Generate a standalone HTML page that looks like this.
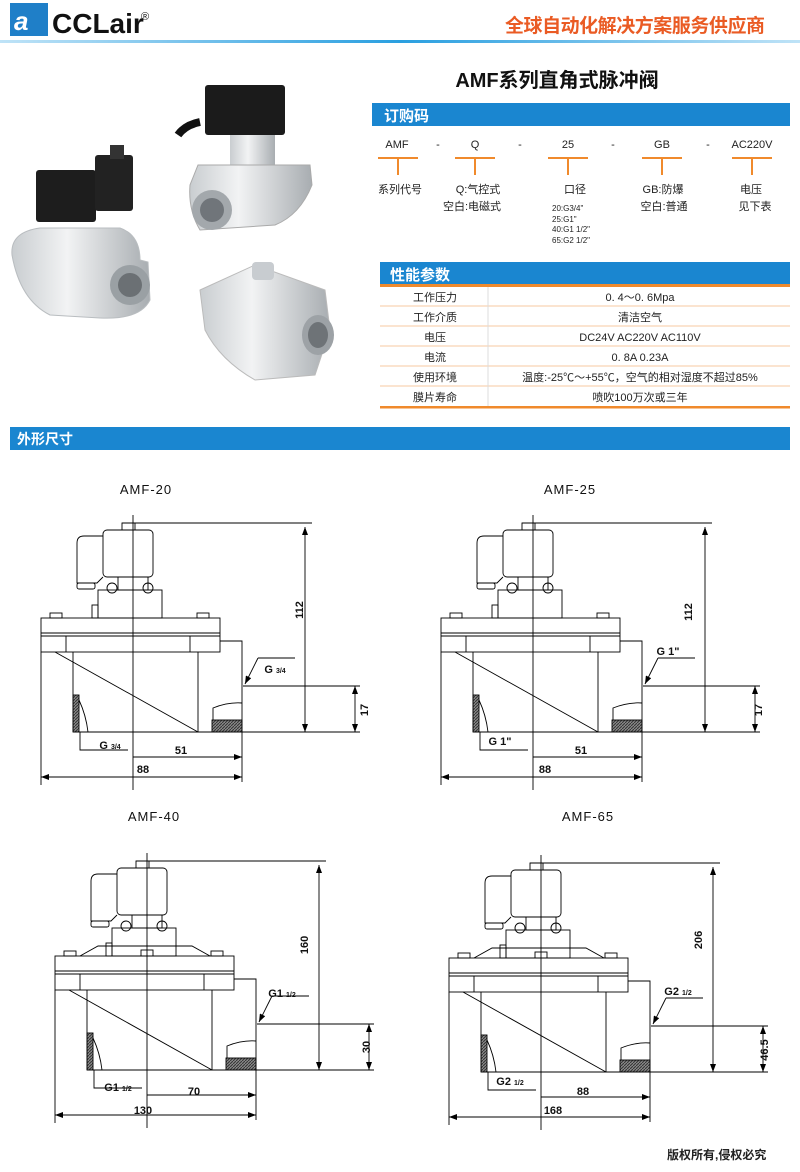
<!DOCTYPE html>
<html><head><meta charset="utf-8"><style>
html,body{margin:0;padding:0;background:#fff;}
body{width:800px;height:1167px;overflow:hidden;position:relative;font-family:"Liberation Sans","Noto Sans CJK SC",sans-serif;}
svg text{font-family:"Liberation Sans","Noto Sans CJK SC",sans-serif;}
</style></head><body>
<svg width="800" height="1167" viewBox="0 0 800 1167" xmlns="http://www.w3.org/2000/svg">
<defs>
<linearGradient id="hl" x1="0" x2="1"><stop offset="0" stop-color="#bfe3f7"/><stop offset="0.5" stop-color="#2a9fe0"/><stop offset="1" stop-color="#bfe3f7"/></linearGradient>
<linearGradient id="metal" x1="0" x2="1"><stop offset="0" stop-color="#c9cdd0"/><stop offset="0.4" stop-color="#f2f3f4"/><stop offset="1" stop-color="#a8adb1"/></linearGradient>
<pattern id="hatch" width="3" height="3" patternUnits="userSpaceOnUse"><rect width="3" height="3" fill="#888"/><path d="M0 3L3 0" stroke="#333" stroke-width="1"/></pattern>
<marker id="ar" markerWidth="8" markerHeight="6" refX="8" refY="3" orient="auto-start-reverse" markerUnits="userSpaceOnUse"><path d="M0 0L8 3L0 6z" fill="#000"/></marker>
<g id="valve" fill="none" stroke="#000" stroke-width="0.9">
  <line x1="133" y1="515" x2="133" y2="790"/>
  <line x1="122" y1="523" x2="312" y2="523"/>
  <rect x="122" y="523" width="13" height="7"/>
  <rect x="103" y="530" width="50" height="47" rx="4"/>
  <path d="M103 536 H84 Q77 536 77 543 V583 H97 L103 577"/>
  <rect x="77" y="583" width="18" height="6" rx="2"/>
  <rect x="118" y="577" width="30" height="13"/>
  <circle cx="112" cy="588" r="5"/><circle cx="148" cy="588" r="5"/>
  <rect x="98" y="590" width="64" height="28"/>
  <rect x="92" y="605" width="6" height="13"/>
  <rect x="50" y="613" width="12" height="5"/><rect x="197" y="613" width="12" height="5"/>
  <rect x="41" y="618" width="179" height="34"/>
  <line x1="41" y1="633" x2="220" y2="633"/><line x1="41" y1="636" x2="220" y2="636"/>
  <line x1="66" y1="636" x2="66" y2="652"/><line x1="190" y1="636" x2="190" y2="652"/>
  <path d="M220 641 H242 V732"/>
  <line x1="41" y1="652" x2="41" y2="785"/>
  <line x1="73" y1="652" x2="73" y2="732"/>
  <line x1="198" y1="652" x2="198" y2="732"/>
  <line x1="55" y1="652" x2="198" y2="732"/>
  <line x1="73" y1="732" x2="360" y2="732"/>
  <rect x="73" y="695" width="6" height="37" fill="url(#hatch)"/>
  <path d="M79 700 Q86 715 88 732"/>
  <rect x="212" y="720" width="30" height="12" fill="url(#hatch)"/>
  <path d="M213 720 V708 Q228 702 242 703"/>
  <line x1="305" y1="527" x2="305" y2="732" marker-start="url(#ar)" marker-end="url(#ar)"/>
  <line x1="243" y1="686" x2="360" y2="686"/>
  <line x1="355" y1="686" x2="355" y2="732" marker-start="url(#ar)" marker-end="url(#ar)"/>
  <path d="M258 658 L245 684" marker-end="url(#ar)"/><line x1="258" y1="658" x2="295" y2="658"/>
  <path d="M80 732 V750 H128"/>
  <line x1="242" y1="732" x2="242" y2="782"/>
  <line x1="133" y1="757" x2="242" y2="757" marker-end="url(#ar)"/>
  <line x1="41" y1="777" x2="242" y2="777" marker-start="url(#ar)" marker-end="url(#ar)"/>
</g>
<g id="slope" fill="none" stroke="#000" stroke-width="0.9">
  <path d="M66 618 L84 608 H178 L196 618"/>
  <rect x="127" y="612" width="12" height="6"/>
</g>
</defs>

<!-- header -->
<rect x="10" y="3" width="38" height="33" fill="#1f7fc8"/>
<text x="14" y="30" font-size="26" font-style="italic" font-weight="bold" fill="#fff" font-family="Liberation Serif, serif">a</text>
<text x="52" y="33" font-size="28" font-weight="bold" fill="#111">CCLair</text>
<text x="141" y="20" font-size="11" fill="#111">®</text>
<text x="505" y="32" font-size="19" font-weight="bold" fill="#ea5b24" textLength="260">全球自动化解决方案服务供应商</text>
<rect x="0" y="40" width="800" height="3" fill="url(#hl)"/>

<!-- photos (approximate) -->
<g>
  <rect x="36" y="170" width="60" height="52" rx="3" fill="#1d1d1d"/>
  <rect x="95" y="155" width="38" height="56" rx="3" fill="#222"/>
  <rect x="110" y="145" width="14" height="14" fill="#333"/>
  <path d="M12 255 Q10 232 40 228 L120 228 Q140 235 140 260 L148 262 L150 300 Q140 320 100 318 L50 315 Q20 300 12 255Z" fill="url(#metal)" stroke="#b9bdc0"/>
  <circle cx="130" cy="285" r="20" fill="#9aa0a4"/><circle cx="130" cy="285" r="12" fill="#6b7074"/>
  <rect x="205" y="85" width="80" height="50" rx="3" fill="#1b1b1b"/>
  <path d="M200 122 Q185 125 178 135" stroke="#111" stroke-width="8" fill="none"/>
  <rect x="230" y="135" width="45" height="30" fill="url(#metal)"/>
  <path d="M198 165 L310 165 L312 185 Q300 215 275 225 L200 230 Q188 210 190 185Z" fill="url(#metal)" stroke="#aaa"/>
  <circle cx="212" cy="210" r="20" fill="#a3a8ac"/><circle cx="212" cy="210" r="12" fill="#70757a"/>
  <path d="M200 290 L255 265 L325 290 L330 330 L315 375 L255 380 Q220 360 205 330Z" fill="url(#metal)" stroke="#bbb"/>
  <rect x="252" y="262" width="22" height="18" rx="4" fill="#c8ccd0"/>
  <ellipse cx="318" cy="335" rx="16" ry="20" fill="#9da2a6"/><ellipse cx="318" cy="335" rx="10" ry="13" fill="#6e7377"/>
</g>

<!-- title -->
<text x="557" y="87" font-size="20" font-weight="bold" fill="#111" text-anchor="middle">AMF系列直角式脉冲阀</text>

<!-- order code -->
<rect x="372" y="103" width="418" height="23" fill="#1a86d0"/>
<text x="384" y="121" font-size="15" font-weight="bold" fill="#fff">订购码</text>
<g font-size="11" fill="#222" text-anchor="middle">
  <text x="397" y="148">AMF</text><text x="438" y="148">-</text>
  <text x="475" y="148">Q</text><text x="520" y="148">-</text>
  <text x="568" y="148">25</text><text x="613" y="148">-</text>
  <text x="662" y="148">GB</text><text x="708" y="148">-</text>
  <text x="752" y="148">AC220V</text>
</g>
<g stroke="#f08a2c" stroke-width="2" fill="none">
  <path d="M378 158H418M398 158V175"/><path d="M455 158H495M475 158V175"/>
  <path d="M548 158H588M568 158V175"/><path d="M642 158H682M662 158V175"/>
  <path d="M732 158H772M752 158V175"/>
</g>
<g font-size="11" fill="#222" text-anchor="middle">
  <text x="400" y="193">系列代号</text>
  <text x="478" y="193">Q:气控式</text><text x="472" y="210">空白:电磁式</text>
  <text x="575" y="193">口径</text>
  <text x="663" y="193">GB:防爆</text><text x="664" y="210">空白:普通</text>
  <text x="751" y="193">电压</text><text x="755" y="210">见下表</text>
</g>
<g font-size="8" fill="#222">
  <text x="552" y="211">20:G3/4"</text><text x="552" y="222">25:G1"</text>
  <text x="552" y="232">40:G1 1/2"</text><text x="552" y="243">65:G2 1/2"</text>
</g>

<!-- performance -->
<rect x="380" y="262" width="410" height="23" fill="#1a86d0"/>
<rect x="380" y="284" width="410" height="3" fill="#f08a2c"/>
<text x="390" y="280" font-size="15" font-weight="bold" fill="#fff">性能参数</text>
<g stroke="#f7c9a0" stroke-width="1">
  <line x1="380" y1="306" x2="790" y2="306"/><line x1="380" y1="326" x2="790" y2="326"/>
  <line x1="380" y1="346" x2="790" y2="346"/><line x1="380" y1="366" x2="790" y2="366"/>
  <line x1="380" y1="386" x2="790" y2="386"/>
  <line x1="488" y1="287" x2="488" y2="406" stroke="#ddd"/>
</g>
<rect x="380" y="406" width="410" height="2.5" fill="#f08a2c"/>
<g font-size="11" fill="#222" text-anchor="middle">
  <text x="435" y="301">工作压力</text><text x="640" y="301">0. 4～0. 6Mpa</text>
  <text x="435" y="321">工作介质</text><text x="640" y="321">清洁空气</text>
  <text x="435" y="341">电压</text><text x="640" y="341">DC24V  AC220V  AC110V</text>
  <text x="435" y="361">电流</text><text x="640" y="361">0. 8A  0.23A</text>
  <text x="435" y="381">使用环境</text><text x="640" y="381">温度:-25℃～+55℃，空气的相对湿度不超过85%</text>
  <text x="435" y="401">膜片寿命</text><text x="640" y="401">喷吹100万次或三年</text>
</g>

<!-- dimensions bar -->
<rect x="10" y="427" width="780" height="23" fill="#1a86d0"/>
<text x="17" y="444" font-size="14" font-weight="bold" fill="#fff">外形尺寸</text>

<!-- drawings -->
<use href="#valve"/>
<use href="#valve" transform="translate(400,0)"/>
<use href="#valve" transform="translate(14,338)"/>
<use href="#slope" transform="translate(14,338)"/>
<use href="#valve" transform="translate(408,340)"/>
<use href="#slope" transform="translate(408,340)"/>

<g font-size="13" fill="#111" text-anchor="middle">
  <text x="146" y="494" letter-spacing="1">AMF-20</text>
  <text x="570" y="494" letter-spacing="1">AMF-25</text>
  <text x="154" y="821" letter-spacing="1">AMF-40</text>
  <text x="588" y="821" letter-spacing="1">AMF-65</text>
</g>
<g font-size="11" font-weight="bold" fill="#111" text-anchor="middle">
  <text transform="translate(303,610) rotate(-90)">112</text>
  <text transform="translate(368,710) rotate(-90)">17</text>
  <text x="275" y="673">G <tspan font-size="7">3/4</tspan></text>
  <text x="110" y="749">G <tspan font-size="7">3/4</tspan></text>
  <text x="181" y="754">51</text><text x="143" y="773">88</text>

  <text transform="translate(692,612) rotate(-90)">112</text>
  <text transform="translate(762,710) rotate(-90)">17</text>
  <text x="668" y="655">G 1"</text>
  <text x="500" y="745">G 1"</text>
  <text x="581" y="754">51</text><text x="545" y="773">88</text>

  <text transform="translate(308,945) rotate(-90)">160</text>
  <text transform="translate(370,1047) rotate(-90)">30</text>
  <text x="282" y="997">G1 <tspan font-size="7">1/2</tspan></text>
  <text x="118" y="1091">G1 <tspan font-size="7">1/2</tspan></text>
  <text x="194" y="1095">70</text><text x="143" y="1114">130</text>

  <text transform="translate(702,940) rotate(-90)">206</text>
  <text transform="translate(768,1050) rotate(-90)">46.5</text>
  <text x="678" y="995">G2 <tspan font-size="7">1/2</tspan></text>
  <text x="510" y="1085">G2 <tspan font-size="7">1/2</tspan></text>
  <text x="583" y="1095">88</text><text x="553" y="1114">168</text>
</g>

<text x="667" y="1159" font-size="12" font-weight="bold" fill="#222">版权所有,侵权必究</text>
</svg>
</body></html>
